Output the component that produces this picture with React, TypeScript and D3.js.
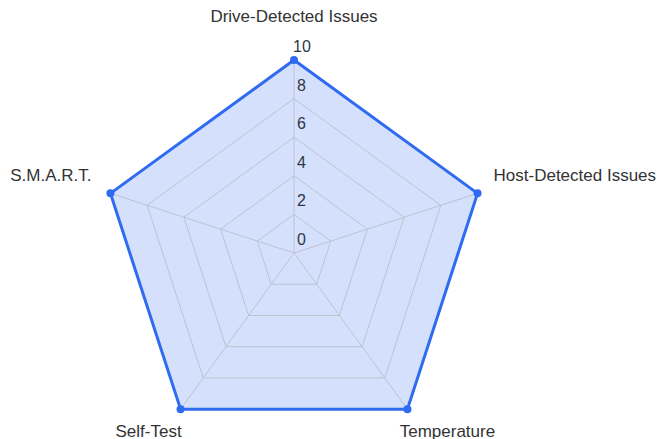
import React from "react";
import { scaleLinear, lineRadial, curveLinearClosed, range } from "d3";

const categories = ["Drive-Detected Issues", "Host-Detected Issues", "Temperature", "Self-Test", "S.M.A.R.T."];
const values = [10, 10, 10, 10, 10];
const ticks = [0, 2, 4, 6, 8, 10];

const width = 658;
const height = 439;
const cx = 294;
const cy = 253;
const radius = 193;
const blue = "#2f6bf0";
const font = "Liberation Sans, Arial, sans-serif";

export default function App() {
  const r = scaleLinear().domain([0, 10]).range([0, radius]);
  const n = categories.length;
  const angle = (i: number) => (i * 2 * Math.PI) / n;
  const pt = (i: number, v: number) => [r(v) * Math.sin(angle(i)), -r(v) * Math.cos(angle(i))];

  const ring = lineRadial<number>()
    .angle((_, i) => angle(i))
    .curve(curveLinearClosed);

  const dataPath = lineRadial<number>()
    .angle((_, i) => angle(i))
    .radius((d) => r(d))
    .curve(curveLinearClosed)(values);

  // label placement around the chart
  const labelPos = categories.map((c, i) => {
    const [x, y] = pt(i, 10);
    const s = Math.sin(angle(i));
    const co = Math.cos(angle(i));
    let anchor = "middle";
    let dx = 0;
    let dy = 0;
    if (co > 0.9) {
      dy = -42;
    } else if (co > 0) {
      anchor = s > 0 ? "start" : "end";
      dx = s > 0 ? 16 : -19;
      dy = -17;
    } else {
      dy = 23;
      dx = s > 0 ? 40 : -32;
    }
    return { c, x: x + dx, y: y + dy, anchor };
  });

  return (
    <svg width={width} height={height} style={{ position: "absolute", left: 0, top: 0 }}>
      <g transform={`translate(${cx},${cy})`}>
        {/* data area */}
        <path d={dataPath || ""} fill="rgba(47,107,240,0.2)" stroke="none" />
        {/* grid rings */}
        {ticks.slice(1).map((t) => (
          <path
            key={t}
            d={ring.radius(() => r(t))(range(n)) || ""}
            fill="none"
            stroke="#bcc2d2"
            strokeWidth={1}
          />
        ))}
        {/* spokes */}
        {categories.map((c, i) => {
          const [x, y] = pt(i, 10);
          return <line key={c} x1={0} y1={0} x2={x} y2={y} stroke="#bcc2d2" strokeWidth={1} />;
        })}
        <path d={dataPath || ""} fill="none" stroke={blue} strokeWidth={3} strokeLinejoin="round" />
        {values.map((v, i) => {
          const [x, y] = pt(i, v);
          return <circle key={i} cx={x} cy={y} r={4} fill={blue} />;
        })}
        {/* tick labels */}
        {ticks.map((t) => (
          <text
            key={t}
            x={t === 10 ? -1 : 3}
            y={-r(t) - 8}
            fontFamily={font}
            fontSize={16}
            fill="#2d3748"
          >
            {t}
          </text>
        ))}
        {labelPos.map((l) => (
          <text
            key={l.c}
            x={l.x}
            y={l.y}
            textAnchor={l.anchor}
            dominantBaseline="middle"
            fontFamily={font}
            fontSize={17}
            fill="#333"
          >
            {l.c}
          </text>
        ))}
      </g>
    </svg>
  );
}
